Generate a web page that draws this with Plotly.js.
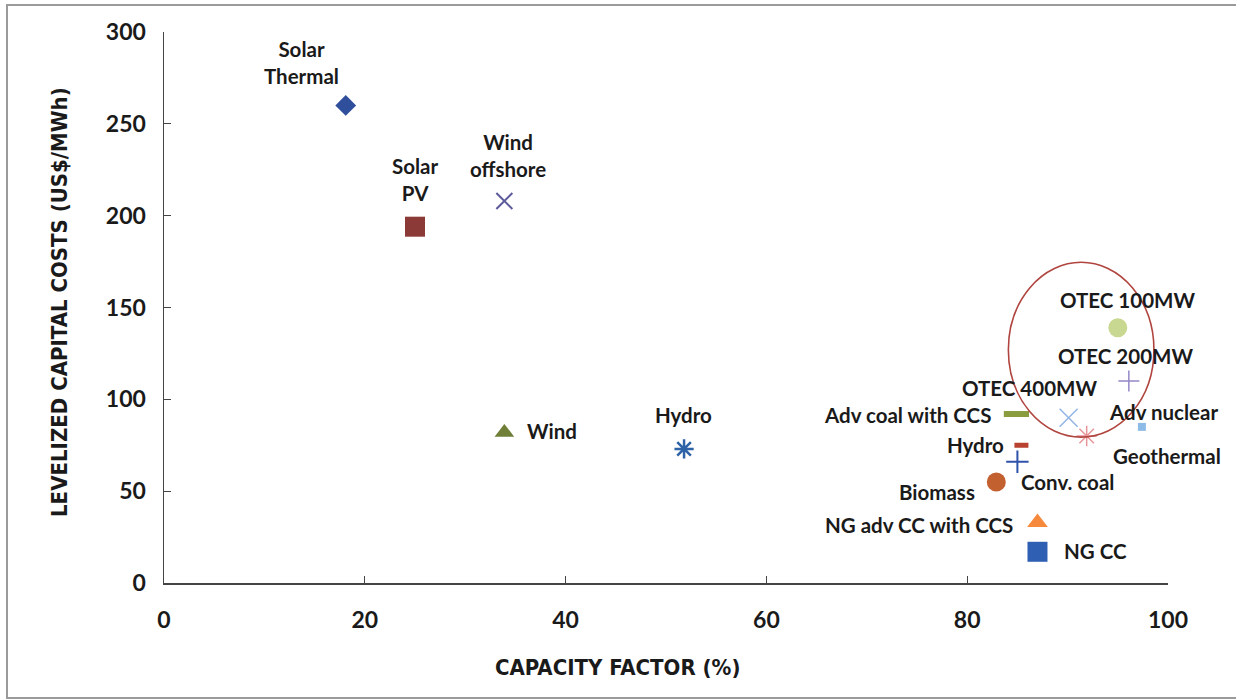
<!DOCTYPE html>
<html>
<head>
<meta charset="utf-8">
<script src="https://cdn.plot.ly/plotly-3.0.1.min.js"></script>
<style>html,body{margin:0;padding:0;background:#fff;}#chart{width:1236px;height:700px;}</style>
</head>
<body>
<div id="chart"></div>
<script>
// ---- data ----
var technologies = ["Solar Thermal", "Solar PV", "Wind offshore", "Wind", "Hydro",
  "OTEC 100MW", "OTEC 200MW", "OTEC 400MW", "Adv coal with CCS", "Adv nuclear",
  "Geothermal", "Hydro", "Conv. coal", "Biomass", "NG adv CC with CCS", "NG CC"];
var capacityFactor = [18.1, 25.0, 33.9, 33.9, 51.8, 95.0, 96.1, 90.1, 84.9, 97.4, 91.9, 85.4, 85.0, 82.9, 87.0, 87.0];
var capitalCost = [260, 194, 208, 82, 73, 139, 110, 90, 92, 85, 80, 75, 66, 55, 33, 17];
var xTicks = [0, 20, 40, 60, 80, 100];
var yTicks = [0, 50, 100, 150, 200, 250, 300];

// ---- styles ----
var symbols = ["diamond", "square", "x-thin-open", "triangle-up", "asterisk-open",
  "circle", "cross-thin-open", "x-thin-open", "line-ew-open", "square",
  "asterisk-open", "line-ew-open", "cross-thin-open", "circle", "triangle-up", "square"];
var colors = ["#2f4e9c", "#8c3a38", "#5c5a9a", "#6f7f38", "#2e62a6",
  "#c9d890", "#9588c8", "#93b5e6", "#8a9c3e", "#8cbbe8",
  "#e8959a", "#b8412f", "#2f52aa", "#c2602f", "#f7893c", "#2f5fb2"];
var sizes = [16, 20, 16, 17, 16, 19, 15, 18, 18, 8, 17, 10, 16, 19, 18, 20];
var lineWidths = [0, 0, 2, 0, 2.5, 0, 1.5, 1.5, 6, 0, 1.5, 5, 2, 0, 0, 0];

// label placements (x, y in data units) and anchors
var labelX = [13.7, 25.0, 34.3, 36.0, 51.7, 96.0, 95.8, 86.2, 82.6, 99.6, 94.3, 83.9, 85.2, 81.0, 84.8, 89.4];
var labelY = [283.5, 219.5, 233, 83, 91.4, 154, 123.7, 106.1, 91.4, 93.2, 69.1, 75.1, 55.1, 49.7, 31.6, 17.6];
var labelText = ["Solar<br>Thermal", "Solar<br>PV", "Wind<br>offshore", "Wind", "Hydro",
  "OTEC 100MW", "OTEC 200MW", "OTEC 400MW", "Adv coal with CCS", "Adv nuclear",
  "Geothermal", "Hydro", "Conv. coal", "Biomass", "NG adv CC with CCS", "NG CC"];
var labelAnchor = ["center", "center", "center", "left", "center",
  "center", "center", "center", "right", "center",
  "left", "right", "left", "right", "right", "left"];

var FONT = "Lato, 'Open Sans', sans-serif";
var TITLE_FONT = "'Liberation Sans Narrow', 'DejaVu Sans Condensed', sans-serif";

var traces = technologies.map(function (name, i) {
  return {
    type: "scatter", mode: "markers", name: name,
    x: [capacityFactor[i]], y: [capitalCost[i]],
    marker: {
      symbol: symbols[i], size: sizes[i], color: colors[i],
      line: {color: colors[i], width: lineWidths[i]}
    },
    hoverinfo: "name+x+y"
  };
});

var annotations = labelText.map(function (t, i) {
  return {
    x: labelX[i], y: labelY[i], xref: "x", yref: "y", text: t, showarrow: false,
    xanchor: labelAnchor[i], yanchor: "middle", align: "center",
    font: {family: FONT, size: 20.5, color: "#1a1a1a", weight: "bold"}
  };
});
annotations.push({
  xref: "paper", yref: "paper", x: (617 - 164) / 1004, y: -(667 - 583) / 551,
  text: "CAPACITY FACTOR (%)", showarrow: false, xanchor: "center", yanchor: "middle",
  font: {family: TITLE_FONT, size: 22, color: "#1a1a1a", weight: "bold"}
});
annotations.push({
  xref: "paper", yref: "paper", x: -(164 - 59) / 1004, y: (583 - 302) / 551,
  text: "LEVELIZED CAPITAL COSTS (US$/MWh)", showarrow: false, textangle: -90,
  xanchor: "center", yanchor: "middle",
  font: {family: TITLE_FONT, size: 22, color: "#1a1a1a", weight: "bold"}
});

var layout = {
  width: 1236, height: 700,
  margin: {l: 164, r: 68, t: 32, b: 117},
  paper_bgcolor: "#ffffff", plot_bgcolor: "#ffffff",
  showlegend: false,
  font: {family: FONT, color: "#1a1a1a"},
  xaxis: {
    range: [0, 100], tickvals: xTicks, ticktext: xTicks.map(String),
    showgrid: false, zeroline: false, showline: true, linecolor: "#444", linewidth: 1.5,
    ticks: "inside", ticklen: 7, tickcolor: "#444", tickwidth: 1,
    ticklabelstandoff: 16,
    tickfont: {family: FONT, size: 23, color: "#1a1a1a", weight: "bold"}
  },
  yaxis: {
    range: [0, 300], tickvals: yTicks, ticktext: yTicks.map(String),
    showgrid: false, zeroline: false, showline: true, linecolor: "#444", linewidth: 1.5,
    ticks: "inside", ticklen: 7, tickcolor: "#444", tickwidth: 1,
    ticklabelstandoff: 12,
    tickfont: {family: FONT, size: 23, color: "#1a1a1a", weight: "bold"}
  },
  shapes: [
    {type: "circle", xref: "x", yref: "y", x0: 84.1, x1: 98.6, y0: 79.4, y1: 174.6,
     line: {color: "#b0453f", width: 1.6}},
    {type: "rect", xref: "paper", yref: "paper",
     x0: -(164 - 7) / 1004, x1: (1240 - 164) / 1004, y0: -(698 - 583) / 551, y1: (583 - 5) / 551,
     line: {color: "#9a9a9a", width: 2}}
  ],
  annotations: annotations
};

Plotly.newPlot("chart", traces, layout, {displayModeBar: false, staticPlot: true});
</script>
</body>
</html>
